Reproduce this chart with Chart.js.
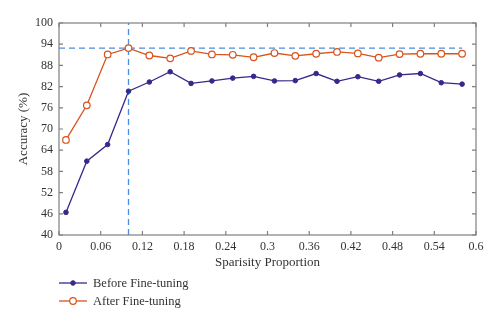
<!DOCTYPE html>
<html>
<head>
<meta charset="utf-8">
<script src="https://cdn.jsdelivr.net/npm/chart.js@4.4.1/dist/chart.umd.min.js"></script>
<style>
  html, body { margin: 0; padding: 0; background: #fff; }
  #wrap { width: 500px; height: 326px; }
</style>
</head>
<body>
<div id="wrap"><canvas id="accChart" width="500" height="326"></canvas></div>
<script>
// data
const sparsity = [0.01, 0.04, 0.07, 0.10, 0.13, 0.16, 0.19, 0.22, 0.25, 0.28,
                  0.31, 0.34, 0.37, 0.40, 0.43, 0.46, 0.49, 0.52, 0.55, 0.58];
const beforeFT = [46.4, 60.9, 65.6, 80.7, 83.3, 86.2, 82.9, 83.6, 84.4, 84.9,
                  83.6, 83.7, 85.7, 83.5, 84.8, 83.5, 85.3, 85.7, 83.1, 82.7];
const afterFT  = [66.9, 76.7, 91.1, 92.9, 90.8, 90.0, 92.1, 91.1, 91.0, 90.3,
                  91.5, 90.7, 91.3, 91.8, 91.4, 90.2, 91.2, 91.3, 91.3, 91.3];
const xTicks = [0, 0.06, 0.12, 0.18, 0.24, 0.3, 0.36, 0.42, 0.48, 0.54, 0.6];
const yTicks = [40, 46, 52, 58, 64, 70, 76, 82, 88, 94, 100];
const bestAcc = 92.9;
const bestSparsity = 0.1;

const FONT = "'Liberation Serif', 'Times New Roman', serif";
const RED = '#d9531e';
const BLUE = '#36298a';
const DASH = '#4a8ee0';
const AXIS = '#7f7f7f';

const toPts = ys => ys.map((y, i) => ({ x: sparsity[i], y: y }));

// box, inward ticks and the legend under the axis
const boxPlugin = {
  id: 'box',
  afterDraw(chart) {
    const { ctx, chartArea: a, scales } = chart;
    ctx.save();
    ctx.strokeStyle = AXIS;
    ctx.lineWidth = 1.2;
    ctx.strokeRect(a.left, a.top, a.right - a.left, a.bottom - a.top);
    ctx.beginPath();
    xTicks.forEach(v => {
      const px = scales.x.getPixelForValue(v);
      ctx.moveTo(px, a.bottom); ctx.lineTo(px, a.bottom - 4);
      ctx.moveTo(px, a.top); ctx.lineTo(px, a.top + 4);
    });
    yTicks.forEach(v => {
      const py = scales.y.getPixelForValue(v);
      ctx.moveTo(a.left, py); ctx.lineTo(a.left + 4, py);
      ctx.moveTo(a.right, py); ctx.lineTo(a.right - 4, py);
    });
    ctx.stroke();

    // legend
    const rows = [283, 301];
    [0, 1].forEach((di, k) => {
      const ds = chart.data.datasets[di];
      const y = rows[k];
      ctx.strokeStyle = ds.borderColor;
      ctx.lineWidth = 1.3;
      ctx.beginPath(); ctx.moveTo(59, y); ctx.lineTo(87, y); ctx.stroke();
      ctx.beginPath();
      ctx.arc(73, y, ds.pointRadius, 0, Math.PI * 2);
      ctx.fillStyle = ds.pointBackgroundColor;
      ctx.fill();
      ctx.lineWidth = ds.pointBorderWidth;
      ctx.stroke();
      ctx.fillStyle = '#333';
      ctx.font = '12.5px ' + FONT;
      ctx.textBaseline = 'middle';
      ctx.textAlign = 'left';
      ctx.fillText(ds.label, 93, y + 1);
    });
    ctx.restore();
  }
};

new Chart(document.getElementById('accChart'), {
  type: 'line',
  data: {
    datasets: [
      {
        label: 'Before Fine-tuning',
        data: toPts(beforeFT),
        borderColor: BLUE,
        backgroundColor: BLUE,
        pointBackgroundColor: BLUE,
        pointBorderColor: BLUE,
        pointRadius: 2.3,
        pointBorderWidth: 1,
        borderWidth: 1.3,
        tension: 0
      },
      {
        label: 'After Fine-tuning',
        data: toPts(afterFT),
        borderColor: RED,
        backgroundColor: '#fff',
        pointBackgroundColor: '#fff',
        pointBorderColor: RED,
        pointRadius: 3.3,
        pointBorderWidth: 1.2,
        borderWidth: 1.3,
        tension: 0
      },
      {
        label: 'best-h',
        data: [{ x: 0, y: bestAcc }, { x: sparsity[sparsity.length - 1], y: bestAcc }],
        borderColor: DASH,
        borderWidth: 1.3,
        borderDash: [6, 4],
        pointRadius: 0
      },
      {
        label: 'best-v',
        data: [{ x: bestSparsity, y: 40 }, { x: bestSparsity, y: 100 }],
        borderColor: DASH,
        borderWidth: 1.3,
        borderDash: [6, 4],
        pointRadius: 0
      }
    ]
  },
  options: {
    responsive: false,
    animation: false,
    layout: { padding: { top: 23, right: 24, bottom: 56, left: 0 } },
    plugins: {
      legend: { display: false },
      tooltip: { enabled: false }
    },
    scales: {
      x: {
        type: 'linear',
        min: 0,
        max: 0.6,
        afterFit: s => { s.height = 35; },
        afterBuildTicks: s => { s.ticks = xTicks.map(v => ({ value: v })); },
        grid: { display: false, drawTicks: false },
        border: { display: false },
        ticks: {
          color: '#333',
          padding: 5,
          maxRotation: 0,
          autoSkip: false,
          font: { family: FONT, size: 12 },
          callback: v => String(Number(v.toFixed(2)))
        },
        title: {
          display: true,
          text: 'Sparisity Proportion',
          color: '#333',
          padding: 0,
          font: { family: FONT, size: 13 }
        }
      },
      y: {
        min: 40,
        max: 100,
        afterFit: s => { s.width = 59; },
        afterBuildTicks: s => { s.ticks = yTicks.map(v => ({ value: v })); },
        grid: { display: false, drawTicks: false },
        border: { display: false },
        ticks: {
          color: '#333',
          padding: 6,
          autoSkip: false,
          font: { family: FONT, size: 12 }
        },
        title: {
          display: true,
          text: 'Accuracy (%)',
          color: '#333',
          padding: { top: 16, bottom: 0 },
          font: { family: FONT, size: 13 }
        }
      }
    }
  },
  plugins: [boxPlugin]
});
</script>
</body>
</html>
